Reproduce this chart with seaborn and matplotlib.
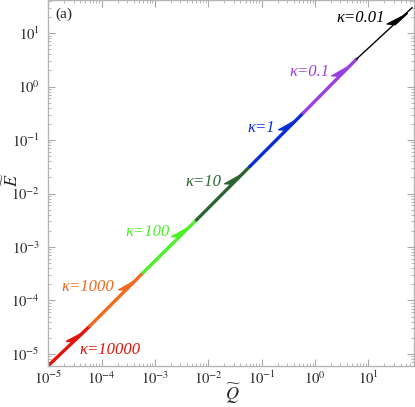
import numpy as np
import matplotlib
matplotlib.use("Agg")
import matplotlib.pyplot as plt
import seaborn as sns
from matplotlib.path import Path
from matplotlib.markers import MarkerStyle
from matplotlib.transforms import Affine2D
from matplotlib.ticker import LogLocator, NullFormatter, FuncFormatter

# data
kappa = ['10000', '1000', '100', '10', '1', '0.1', '0.01']
seg_q = [1e-5, 6e-5, 6e-4, 6e-3, 6e-2, 6e-1, 6.0, 66.0]
seg_e = [6e-6, 3.3e-5, 3.3e-4, 3.2e-3, 3.2e-2, 0.32, 3.27, 30.0]
colors = ['#e3140c', '#f26a1f', '#4ef02c', '#2b6531', '#0a2ed6', '#9b40e0', 'black']
widths = [2.4, 2.4, 2.4, 2.4, 2.4, 2.4, 1.0]

# label positions (data coords)
label_q = [1.45e-4, 5.6e-5, 7.4e-4, 8.2e-3, 0.1, 0.79, 7.1]
label_e = [1.2e-5, 1.8e-4, 1.9e-3, 1.65e-2, 0.168, 1.86, 19.0]

x_ticks = [1e-5, 1e-4, 1e-3, 1e-2, 1e-1, 1e0, 1e1]
y_ticks = [1e-5, 1e-4, 1e-3, 1e-2, 1e-1, 1e0, 1e1]

sns.set_style("ticks")
plt.rcParams['font.family'] = ['Liberation Serif', 'DejaVu Sans']
plt.rcParams['mathtext.fontset'] = 'stix'

fig = plt.figure(figsize=(4.15, 4.07), dpi=100)
ax = fig.add_axes([0.116, 0.101, 0.882, 0.899])
ax.set_xscale('log')
ax.set_yscale('log')
ax.set_xlim(1e-5, 72)
ax.set_ylim(5.97e-6, 41.6)

for i, k in enumerate(kappa):
    sns.lineplot(x=seg_q[i:i + 2], y=seg_e[i:i + 2], color=colors[i],
                 lw=widths[i], ax=ax, legend=False)

# half arrow heads near the top of every segment
barb = Path([(0, 0), (-1, 0.28), (-0.75, 0), (0, 0)],
            [Path.MOVETO, Path.LINETO, Path.LINETO, Path.CLOSEPOLY])
for i, k in enumerate(kappa):
    lq0, lq1 = np.log10(seg_q[i]), np.log10(seg_q[i + 1])
    le0, le1 = np.log10(seg_e[i]), np.log10(seg_e[i + 1])
    f = 0.9
    tq, te = 10 ** (lq0 + f * (lq1 - lq0)), 10 ** (le0 + f * (le1 - le0))
    p0 = ax.transData.transform((seg_q[i], seg_e[i]))
    p1 = ax.transData.transform((seg_q[i + 1], seg_e[i + 1]))
    ang = np.degrees(np.arctan2(p1[1] - p0[1], p1[0] - p0[0]))
    m = MarkerStyle(barb, transform=Affine2D().rotate_deg(ang))
    ax.plot([tq], [te], marker=m, markersize=32, color=colors[i],
            markeredgewidth=0.8, linestyle='none')

for i, k in enumerate(kappa):
    ax.text(label_q[i], label_e[i], 'κ=' + k, color=colors[i], fontsize=12,
            style='italic', ha='center', va='center')

ax.text(0.019, 0.962, '(a)', transform=ax.transAxes, fontsize=11,
        ha='left', va='center')

sci = FuncFormatter(lambda v, pos: r'$10^{%d}$' % int(round(np.log10(v))))
ax.set_xticks(x_ticks)
ax.set_yticks(y_ticks)
ax.xaxis.set_major_formatter(sci)
ax.yaxis.set_major_formatter(sci)
ax.xaxis.set_minor_locator(LogLocator(base=10, subs=np.arange(2, 10), numticks=20))
ax.yaxis.set_minor_locator(LogLocator(base=10, subs=np.arange(2, 10), numticks=20))
ax.xaxis.set_minor_formatter(NullFormatter())
ax.yaxis.set_minor_formatter(NullFormatter())
ax.set_xlim(1e-5, 72)
ax.set_ylim(5.97e-6, 41.6)

ax.tick_params(which='both', direction='in', top=True, right=True,
               color='#a8a8a8', labelsize=10.5)
ax.tick_params(which='major', length=5, width=0.8)
ax.tick_params(which='minor', length=2.5, width=0.6)
ax.tick_params(axis='x', pad=3)
ax.tick_params(axis='y', pad=6)
for s in ax.spines.values():
    s.set_color('#b4b4b4')
    s.set_linewidth(1.0)

ax.set_xlabel(r'$\widetilde{Q}$', fontsize=13)
ax.set_ylabel(r'$\widetilde{E}$', fontsize=13)
ax.xaxis.set_label_coords(0.504, -0.044)
ax.yaxis.set_label_coords(-0.072, 0.508)

fig.savefig('out.png', dpi=100)
